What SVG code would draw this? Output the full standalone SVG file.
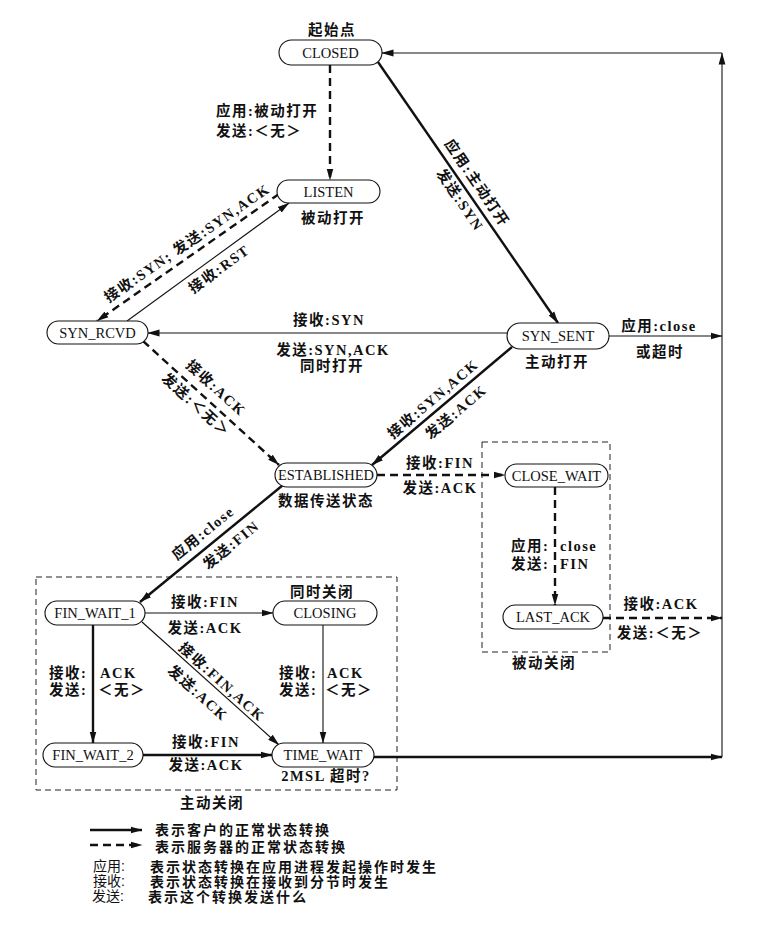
<svg xmlns="http://www.w3.org/2000/svg" width="758" height="942" viewBox="0 0 758 942">
<style>
  .bg{fill:#fff}
  .node rect{fill:#fff;stroke:#111;stroke-width:1.1}
  .nt{font-family:"Liberation Serif",serif;font-size:14.5px;text-anchor:middle;fill:#111}
  .lb{font-family:"Liberation Serif","Noto Sans CJK SC",serif;font-size:14.5px;font-weight:bold;letter-spacing:1.5px;fill:#111}
  .mid{text-anchor:middle}
  .lg{font-family:"Liberation Sans","Noto Sans CJK SC",sans-serif;font-size:14px;font-weight:bold;letter-spacing:2px;fill:#111}
  .lgk{font-family:"Liberation Sans","Noto Sans CJK SC",sans-serif;font-size:14px;font-weight:normal;fill:#111}
  .c{fill:none;stroke:#111}
  .thick{stroke-width:2.4}
  .thin{stroke-width:1.1}
  .dash{stroke-dasharray:8 5}
  .box{fill:none;stroke:#222;stroke-width:1;stroke-dasharray:6 4}
  .arr{marker-end:url(#ah)}
</style>
<defs>
  <marker id="ah" viewBox="0 0 12 8" refX="11.5" refY="4" markerWidth="12" markerHeight="8" markerUnits="userSpaceOnUse" orient="auto">
    <path d="M0,0.6 L12,4 L0,7.4 z" fill="#111"/>
  </marker>
</defs>
<rect class="bg" x="0" y="0" width="758" height="942"/>

<g id="boxes">
  <rect class="box" x="36" y="577" width="361" height="213"/>
  <rect class="box" x="482" y="442" width="128" height="210"/>
  <text class="lb mid" x="212" y="808">主动关闭</text>
  <text class="lb mid" x="544" y="668">被动关闭</text>
</g>

<g id="connectors">
  <!-- CLOSED -> LISTEN -->
  <line class="c thick dash arr" x1="330" y1="65" x2="330" y2="180"/>
  <!-- CLOSED -> SYN_SENT -->
  <line class="c thick arr" x1="378" y1="62" x2="558" y2="323"/>
  <!-- LISTEN -> SYN_RCVD -->
  <line class="c thick dash arr" x1="279" y1="194" x2="97" y2="321"/>
  <!-- SYN_RCVD -> LISTEN -->
  <line class="c thin arr" x1="127" y1="321" x2="289" y2="203"/>
  <!-- SYN_SENT -> SYN_RCVD -->
  <line class="c thin arr" x1="507" y1="333" x2="148" y2="333"/>
  <!-- SYN_RCVD -> ESTABLISHED -->
  <line class="c thick dash arr" x1="143" y1="341" x2="279" y2="465"/>
  <!-- SYN_SENT -> ESTABLISHED -->
  <line class="c thick arr" x1="512" y1="347" x2="372" y2="465"/>
  <!-- SYN_SENT -> return line -->
  <line class="c thin arr" x1="609" y1="336" x2="722" y2="336"/>
  <!-- ESTABLISHED -> CLOSE_WAIT -->
  <line class="c thick dash arr" x1="377" y1="475" x2="505" y2="475"/>
  <!-- CLOSE_WAIT -> LAST_ACK -->
  <line class="c thick dash arr" x1="555" y1="487" x2="555" y2="605"/>
  <!-- LAST_ACK -> return line -->
  <line class="c thick dash arr" x1="603" y1="618" x2="722" y2="618"/>
  <!-- ESTABLISHED -> FIN_WAIT_1 -->
  <line class="c thick arr" x1="283" y1="485" x2="140" y2="602"/>
  <!-- FIN_WAIT_1 -> CLOSING -->
  <line class="c thin arr" x1="145" y1="613" x2="273" y2="613"/>
  <!-- FIN_WAIT_1 -> FIN_WAIT_2 -->
  <line class="c thick arr" x1="93" y1="625" x2="93" y2="743"/>
  <!-- CLOSING -> TIME_WAIT -->
  <line class="c thin arr" x1="323" y1="625" x2="323" y2="743"/>
  <!-- FIN_WAIT_1 -> TIME_WAIT -->
  <line class="c thin arr" x1="142" y1="622" x2="279" y2="745"/>
  <!-- FIN_WAIT_2 -> TIME_WAIT -->
  <line class="c thick arr" x1="143" y1="755" x2="272" y2="755"/>
  <!-- TIME_WAIT -> return line -->
  <line class="c thick arr" x1="374" y1="757" x2="722" y2="757"/>
  <!-- return line up and back to CLOSED -->
  <line class="c thin arr" x1="722" y1="757" x2="722" y2="53"/>
  <line class="c thin arr" x1="722" y1="53" x2="382" y2="53"/>
</g>

<g id="edge-labels">
  <text class="lb" x="216" y="116">应用:被动打开</text>
  <text class="lb" x="216" y="136">发送:＜无＞</text>

  <text class="lb mid" transform="translate(477 183) rotate(55.7)" y="5">应用:主动打开</text>
  <text class="lb mid" transform="translate(460 200) rotate(55.7)" y="5">发送:SYN</text>

  <text class="lb mid" transform="translate(187 243) rotate(-34.6)" y="5">接收:SYN; 发送:SYN,ACK</text>
  <text class="lb mid" transform="translate(219 269) rotate(-36)" y="5">接收:RST</text>

  <text class="lb mid" x="329" y="325">接收:SYN</text>
  <text class="lb mid" x="333" y="355">发送:SYN,ACK</text>
  <text class="lb mid" x="332" y="371">同时打开</text>

  <text class="lb mid" transform="translate(216 388) rotate(42.4)" y="5">接收:ACK</text>
  <text class="lb mid" transform="translate(196 405) rotate(42.4)" y="5">发送:＜无＞</text>

  <text class="lb mid" transform="translate(433 399) rotate(-40.3)" y="5">接收:SYN,ACK</text>
  <text class="lb mid" transform="translate(456 412) rotate(-40.3)" y="5">发送:ACK</text>

  <text class="lb mid" x="659" y="331">应用:close</text>
  <text class="lb mid" x="660" y="357">或超时</text>

  <text class="lb mid" x="440" y="468">接收:FIN</text>
  <text class="lb mid" x="440" y="493">发送:ACK</text>

  <text class="lb" y="551"><tspan x="511">应用:</tspan><tspan x="560">close</tspan></text>
  <text class="lb" y="569"><tspan x="511">发送:</tspan><tspan x="560">FIN</tspan></text>

  <text class="lb mid" x="661" y="609">接收:ACK</text>
  <text class="lb mid" x="660" y="638">发送:＜无＞</text>

  <text class="lb mid" transform="translate(203 533) rotate(-39.3)" y="5">应用:close</text>
  <text class="lb mid" transform="translate(231 545) rotate(-39.3)" y="5">发送:FIN</text>

  <text class="lb mid" x="205" y="607">接收:FIN</text>
  <text class="lb mid" x="205" y="633">发送:ACK</text>

  <text class="lb" y="678"><tspan x="49">接收:</tspan><tspan x="100">ACK</tspan></text>
  <text class="lb" y="695"><tspan x="49">发送:</tspan><tspan x="98">＜无＞</tspan></text>

  <text class="lb" y="678"><tspan x="279">接收:</tspan><tspan x="327">ACK</tspan></text>
  <text class="lb" y="695"><tspan x="279">发送:</tspan><tspan x="325">＜无＞</tspan></text>

  <text class="lb mid" transform="translate(222 682) rotate(41.9)" y="5">接收:FIN,ACK</text>
  <text class="lb mid" transform="translate(198 693) rotate(41.9)" y="5">发送:ACK</text>

  <text class="lb mid" x="206" y="747">接收:FIN</text>
  <text class="lb mid" x="206" y="770">发送:ACK</text>
</g>

<g id="CLOSED" class="node">
  <text class="lb mid" x="332" y="35">起始点</text>
  <rect x="279" y="40" width="103" height="25" rx="12.5"/>
  <text class="nt" x="330.5" y="57.5">CLOSED</text>
</g>
<g id="LISTEN" class="node">
  <rect x="277" y="180" width="103" height="23" rx="11.5"/>
  <text class="nt" x="328.5" y="196.5">LISTEN</text>
  <text class="lb mid" x="333" y="223">被动打开</text>
</g>
<g id="SYN_RCVD" class="node">
  <rect x="47" y="321" width="101" height="23" rx="11.5"/>
  <text class="nt" x="97.5" y="337.5">SYN_RCVD</text>
</g>
<g id="SYN_SENT" class="node">
  <rect x="507" y="323" width="102" height="26" rx="13"/>
  <text class="nt" x="558" y="341">SYN_SENT</text>
  <text class="lb mid" x="557" y="367">主动打开</text>
</g>
<g id="ESTABLISHED" class="node">
  <rect x="275" y="463" width="102" height="24" rx="12"/>
  <text class="nt" x="326" y="480" textLength="96" lengthAdjust="spacingAndGlyphs">ESTABLISHED</text>
  <text class="lb mid" x="326" y="506">数据传送状态</text>
</g>
<g id="CLOSE_WAIT" class="node">
  <rect x="505" y="464" width="103" height="23" rx="11.5"/>
  <text class="nt" x="556.5" y="480.5">CLOSE_WAIT</text>
</g>
<g id="LAST_ACK" class="node">
  <rect x="503" y="605" width="100" height="24" rx="12"/>
  <text class="nt" x="553" y="622">LAST_ACK</text>
</g>
<g id="FIN_WAIT_1" class="node">
  <rect x="45" y="601" width="100" height="24" rx="12"/>
  <text class="nt" x="95" y="618">FIN_WAIT_1</text>
</g>
<g id="CLOSING" class="node">
  <text class="lb mid" x="322" y="597">同时关闭</text>
  <rect x="273" y="601" width="104" height="24" rx="12"/>
  <text class="nt" x="325" y="618">CLOSING</text>
</g>
<g id="FIN_WAIT_2" class="node">
  <rect x="43" y="743" width="100" height="24" rx="12"/>
  <text class="nt" x="93" y="760">FIN_WAIT_2</text>
</g>
<g id="TIME_WAIT" class="node">
  <rect x="272" y="743" width="102" height="24" rx="12"/>
  <text class="nt" x="323" y="760">TIME_WAIT</text>
  <text class="lb mid" x="326" y="781">2MSL 超时?</text>
</g>

<g id="legend">
  <line class="c thick arr" x1="90" y1="830" x2="142" y2="830"/>
  <text class="lg" x="155" y="835">表示客户的正常状态转换</text>
  <line class="c thick dash arr" x1="90" y1="845" x2="142" y2="845"/>
  <text class="lg" x="155" y="852">表示服务器的正常状态转换</text>
  <text class="lgk" x="93" y="871">应用:</text>
  <text class="lg" x="150" y="872">表示状态转换在应用进程发起操作时发生</text>
  <text class="lgk" x="93" y="886">接收:</text>
  <text class="lg" x="150" y="887">表示状态转换在接收到分节时发生</text>
  <text class="lgk" x="92" y="901">发送:</text>
  <text class="lg" x="148" y="902">表示这个转换发送什么</text>
</g>
</svg>
